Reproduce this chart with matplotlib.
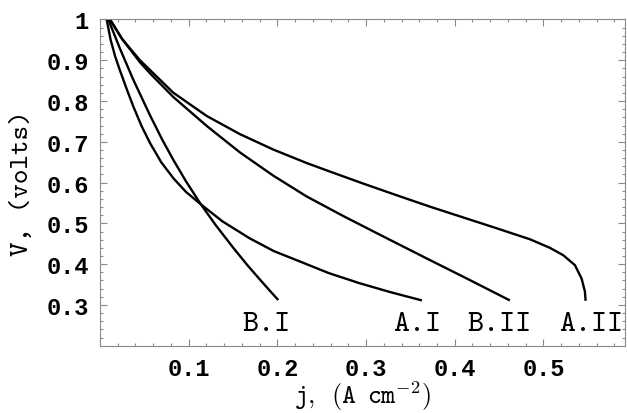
import matplotlib
matplotlib.use('Agg')
import matplotlib.pyplot as plt
from matplotlib.ticker import MultipleLocator

# polarisation curves: current density j (A/cm^2), voltage V (volts)
j_AI = [0.0075, 0.012, 0.017, 0.0225, 0.030, 0.0375, 0.047, 0.0564, 0.069, 0.083,
        0.097, 0.113, 0.138, 0.169, 0.196, 0.226, 0.258, 0.293, 0.328, 0.363]
V_AI = [1.000, 0.950, 0.910, 0.875, 0.830, 0.787, 0.738, 0.697, 0.650, 0.610,
        0.577, 0.548, 0.505, 0.463, 0.432, 0.406, 0.378, 0.353, 0.331, 0.311]

j_BI = [0.0094, 0.0226, 0.0376, 0.0564, 0.070, 0.0826, 0.097, 0.1127, 0.130,
        0.1503, 0.166, 0.1804, 0.191, 0.201]
V_BI = [1.000, 0.928, 0.852, 0.765, 0.706, 0.656, 0.603, 0.550, 0.497,
        0.440, 0.398, 0.362, 0.336, 0.312]

j_BII = [0.0113, 0.025, 0.0451, 0.0564, 0.0826, 0.1203, 0.1578, 0.1954, 0.233,
         0.2743, 0.3157, 0.372, 0.417, 0.4622]
V_BII = [1.000, 0.952, 0.895, 0.868, 0.810, 0.739, 0.674, 0.617, 0.566,
         0.518, 0.472, 0.410, 0.361, 0.311]

j_AII = [0.0113, 0.025, 0.0451, 0.0826, 0.1203, 0.1578, 0.1954, 0.233, 0.2593,
         0.2969, 0.3345, 0.372, 0.4096, 0.4472, 0.4848, 0.5073, 0.5223, 0.5355,
         0.543, 0.5468, 0.5476]
V_AII = [1.000, 0.952, 0.900, 0.8205, 0.7634, 0.7188, 0.681, 0.648, 0.627,
         0.5975, 0.569, 0.541, 0.5145, 0.488, 0.461, 0.440, 0.422, 0.3976,
         0.365, 0.333, 0.310]

curve_names = ['B.I', 'A.I', 'B.II', 'A.II']
label_j = [0.188, 0.358, 0.450, 0.5536]
label_V = [0.254, 0.254, 0.254, 0.254]

xtick_vals = [0.1, 0.2, 0.3, 0.4, 0.5]
xtick_labels = ['0.1', '0.2', '0.3', '0.4', '0.5']
ytick_vals = [0.3, 0.4, 0.5, 0.6, 0.7, 0.8, 0.9, 1.0]
ytick_labels = ['0.3', '0.4', '0.5', '0.6', '0.7', '0.8', '0.9', '1']

plt.rcParams['mathtext.fontset'] = 'cm'
font = 'Liberation Mono'
tt = 'cmtt10'
gray = '#8a8a8a'

fig = plt.figure(figsize=(6.27, 4.14), dpi=100)
ax = fig.add_axes([0.1595, 0.1626, 0.8373, 0.7879])

for jj, vv in [(j_AI, V_AI), (j_BI, V_BI), (j_BII, V_BII), (j_AII, V_AII)]:
    ax.plot(jj, vv, color='black', lw=1.7, solid_joinstyle='round',
            solid_capstyle='butt', clip_on=False)

for name, xj, yv in zip(curve_names, label_j, label_V):
    ax.text(xj, yv, name, ha='center', va='center', fontsize=22,
            family=tt, color='black')

ax.set_xlim(0, 0.592)
ax.set_ylim(0.2, 1.0)

ax.set_xticks(xtick_vals)
ax.set_xticklabels(xtick_labels)
ax.set_yticks(ytick_vals)
ax.set_yticklabels(ytick_labels)
ax.xaxis.set_minor_locator(MultipleLocator(0.02))
ax.yaxis.set_minor_locator(MultipleLocator(0.02))

ax.tick_params(which='both', direction='in', top=True, right=True, color=gray, width=0.8)
ax.tick_params(which='major', length=5, pad=8, labelsize=17)
ax.tick_params(which='minor', length=2.5)
for lab in ax.get_xticklabels() + ax.get_yticklabels():
    lab.set_family(font)
    lab.set_weight('bold')

for sp in ax.spines.values():
    sp.set_color(gray)
    sp.set_linewidth(0.8)

ax.set_xlabel(r'$\mathtt{j,}\enspace\mathtt{(A}\enspace\mathtt{cm}^{\mathtt{-2}}\mathtt{)}$',
              fontsize=19)
ax.set_ylabel('V, (volts)', family=tt, fontsize=20)
ax.xaxis.set_label_coords(0.5, -0.1)
ax.yaxis.set_label_coords(-0.125, 0.5)

fig.savefig('out.png', dpi=100)
